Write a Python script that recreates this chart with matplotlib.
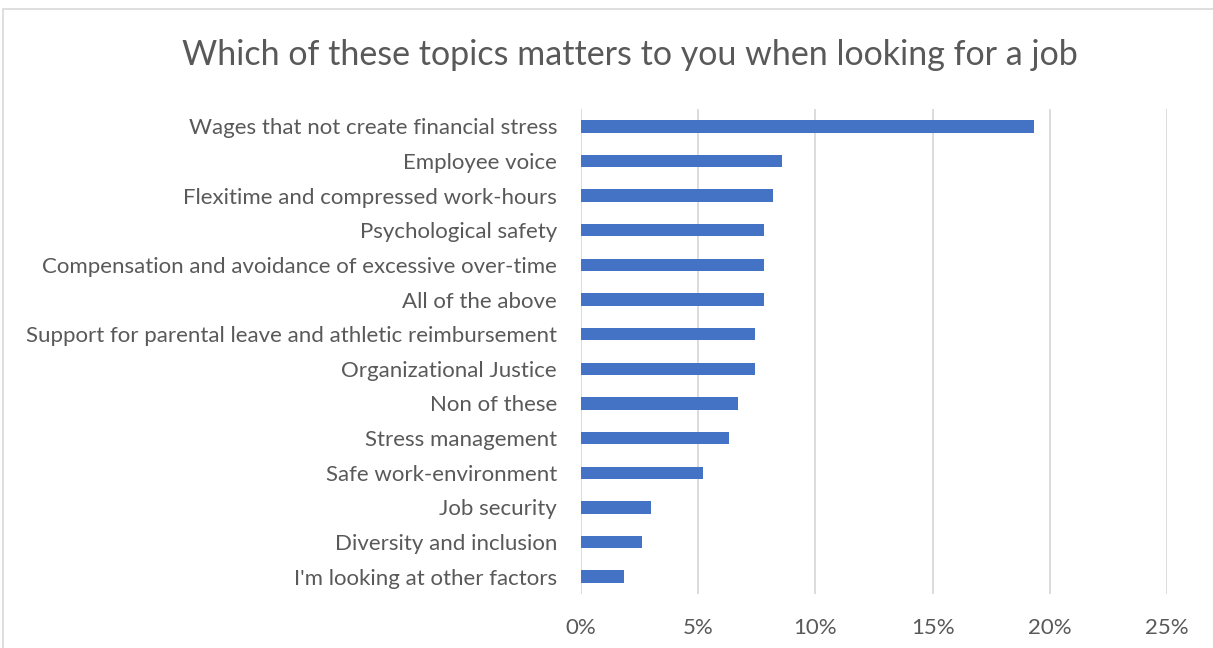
import matplotlib
matplotlib.use("Agg")
import matplotlib.pyplot as plt
from matplotlib.patches import Rectangle
from matplotlib.ticker import FuncFormatter

categories = [
    "Wages that not create financial stress",
    "Employee voice",
    "Flexitime and compressed work-hours",
    "Psychological safety",
    "Compensation and avoidance of excessive over-time",
    "All of the above",
    "Support for parental leave and athletic reimbursement",
    "Organizational Justice",
    "Non of these",
    "Stress management",
    "Safe work-environment",
    "Job security",
    "Diversity and inclusion",
    "I'm looking at other factors",
]
shares = [19.3, 8.56, 8.18, 7.80, 7.80, 7.80, 7.43, 7.43, 6.69, 6.33, 5.21, 2.98, 2.62, 1.86]
x_ticks = [0, 5, 10, 15, 20, 25]

title = "Which of these topics matters to you when looking for a job"
bar_color = "#4472C4"
grid_color = "#D9D9D9"
text_color = "#595959"
font = ["Lato", "DejaVu Sans"]

W, H = 1213, 648
fig = plt.figure(figsize=(W / 100, H / 100), dpi=100)
fig.patch.set_facecolor("white")

# chart-area frame
fig.patches.append(Rectangle((3 / W, -0.1), 1.2, (H - 9) / H + 0.1,
                             transform=fig.transFigure, fill=False,
                             edgecolor=grid_color, linewidth=1.2))

ax = fig.add_axes([580.7 / W, 54 / H, 586.6 / W, 485 / H])
pos = list(range(len(categories)))
ax.barh(pos, shares, height=0.36, color=bar_color, zorder=3)
ax.set_ylim(len(categories) - 0.5, -0.5)
ax.set_xlim(0, 25)
ax.set_xticks(x_ticks)
ax.xaxis.set_major_formatter(FuncFormatter(lambda v, p: f"{v:.0f}%"))
ax.set_yticks(pos)
ax.set_yticklabels(categories)

for s in ax.spines.values():
    s.set_visible(False)
ax.grid(axis="x", color=grid_color, linewidth=1.3, zorder=0)
ax.tick_params(axis="both", length=0, colors=text_color, labelsize=16)
ax.tick_params(axis="y", pad=17)
ax.tick_params(axis="x", pad=17)
for lbl in ax.get_xticklabels() + ax.get_yticklabels():
    lbl.set_family(font)

fig.text(630 / W, 1 - 55 / H, title, ha="center", va="center",
         fontsize=24.5, color=text_color, family=font)

fig.savefig("out.png", dpi=100)
